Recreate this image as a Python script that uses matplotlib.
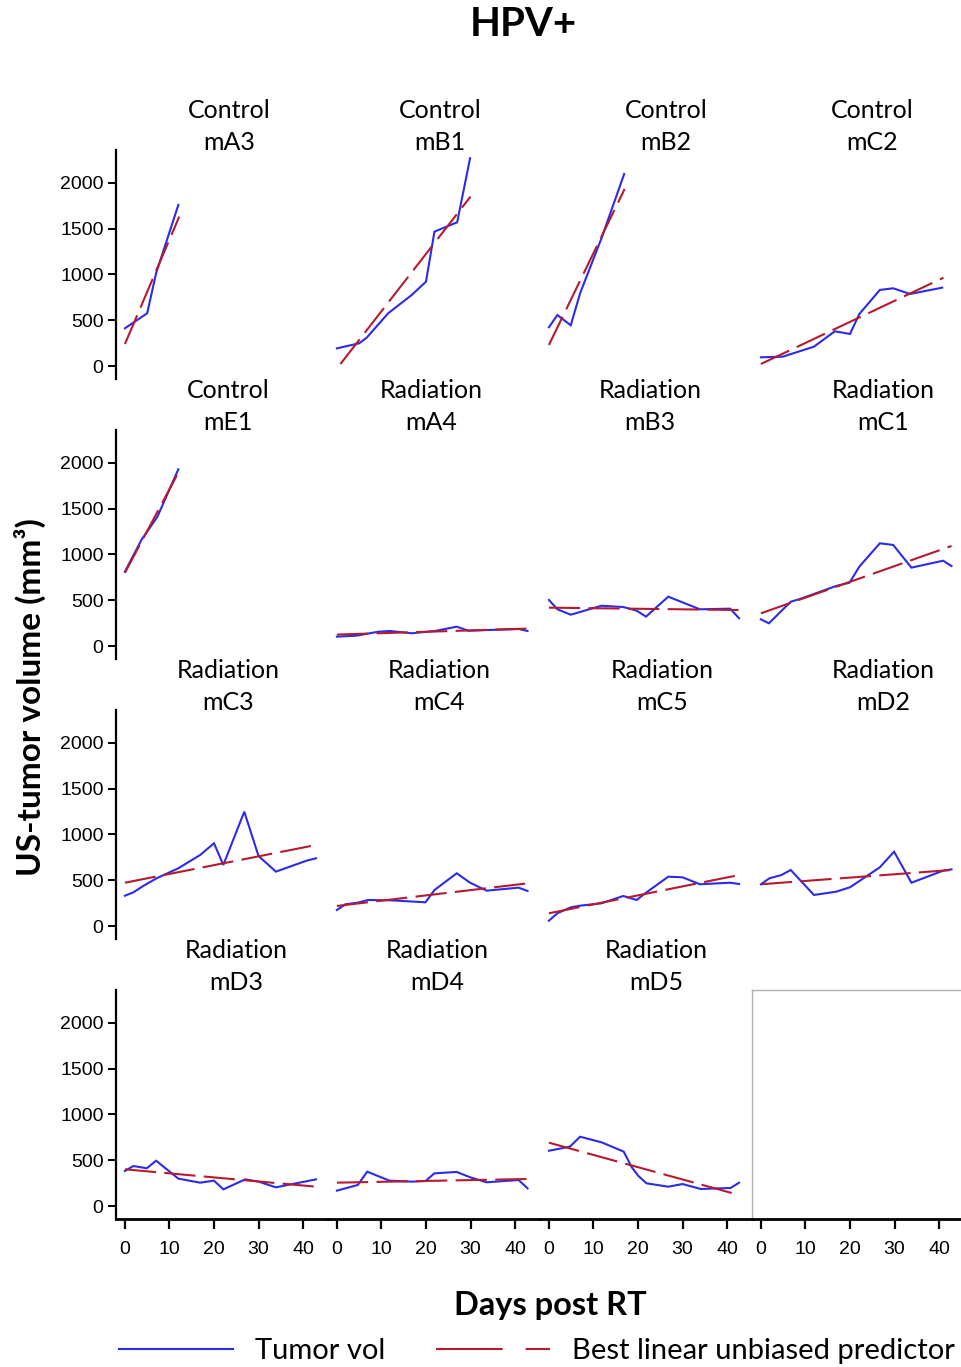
import matplotlib
matplotlib.use("Agg")
import matplotlib.pyplot as plt
from matplotlib.lines import Line2D
from matplotlib.transforms import offset_copy

# ---------------- data ----------------
groups = ["Control", "Control", "Control", "Control",
          "Control", "Radiation", "Radiation", "Radiation",
          "Radiation", "Radiation", "Radiation", "Radiation",
          "Radiation", "Radiation", "Radiation"]
mice = ["mA3", "mB1", "mB2", "mC2",
        "mE1", "mA4", "mB3", "mC1",
        "mC3", "mC4", "mC5", "mD2",
        "mD3", "mD4", "mD5"]

days_mA3 = [0, 5, 7, 12]
vol_mA3 = [412, 576, 1013, 1760]
days_mB1 = [0, 5, 6.7, 11.5, 16.8, 20, 21.9, 27, 29.9]
vol_mB1 = [193, 248, 310, 576, 776, 921, 1468, 1570, 2270]
days_mB2 = [0, 1.9, 4.9, 7, 11.8, 16.9]
vol_mB2 = [423, 557, 445, 794, 1395, 2098]
days_mC2 = [0, 4.9, 11.9, 16.6, 20, 22.1, 26.7, 29.7, 33.5, 40.7]
vol_mC2 = [95, 102, 211, 379, 350, 568, 831, 849, 787, 856]
days_mE1 = [0, 3.7, 7.3, 12]
vol_mE1 = [812, 1158, 1413, 1931]
days_mA4 = [0, 4.4, 9.3, 11.9, 16.8, 22, 26.9, 29.5, 40.8, 42.8]
vol_mA4 = [102, 113, 156, 164, 139, 164, 211, 167, 186, 164]
days_mB3 = [0, 1.9, 4.9, 11.8, 16.7, 19.7, 21.8, 26.8, 30.2, 33.9, 40.7, 42.7]
vol_mB3 = [503, 401, 342, 440, 426, 386, 321, 539, 473, 401, 408, 303]
days_mC1 = [0, 1.8, 6.7, 8.8, 16.9, 19.9, 22.1, 26.7, 29.7, 33.8, 40.9, 42.8]
vol_mC1 = [291, 248, 484, 514, 656, 692, 867, 1122, 1104, 856, 932, 874]
days_mC3 = [0, 1.9, 4.1, 7.1, 12, 16.9, 20, 22.1, 26.8, 30, 33.9, 40.8, 42.9]
vol_mC3 = [331, 368, 437, 521, 631, 776, 904, 667, 1249, 765, 594, 714, 740]
days_mC4 = [0, 1.9, 4.7, 7, 11.9, 19.9, 21.9, 26.9, 29.9, 33.6, 40.8, 42.8]
vol_mC4 = [175, 237, 255, 284, 281, 259, 393, 576, 473, 386, 419, 383]
days_mC5 = [0, 1.9, 4.9, 7, 11.8, 16.7, 19.7, 21.8, 26.8, 30, 33.9, 40.7, 42.7]
vol_mC5 = [58, 139, 204, 222, 248, 328, 284, 364, 539, 532, 456, 473, 459]
days_mD2 = [0, 1.9, 4.6, 6.7, 11.9, 16.9, 20, 26.7, 29.9, 33.8, 40.9, 42.8]
vol_mD2 = [456, 521, 557, 612, 339, 375, 423, 641, 812, 473, 604, 619]
days_mD3 = [0, 1.9, 4.9, 7, 12, 16.9, 20, 22.1, 27, 30, 33.9, 42.9]
vol_mD3 = [383, 437, 412, 495, 299, 255, 277, 182, 291, 266, 204, 291]
days_mD4 = [0, 4.7, 6.8, 11.8, 16.8, 19.9, 21.9, 26.9, 29.9, 33.6, 40.8, 42.8]
vol_mD4 = [168, 230, 375, 277, 266, 273, 357, 372, 314, 259, 284, 193]
days_mD5 = [0, 4.7, 7, 11.8, 16.8, 18.6, 20.1, 21.9, 26.8, 30, 34.1, 40.8, 42.7]
vol_mD5 = [604, 648, 757, 696, 594, 423, 328, 248, 211, 240, 186, 197, 255]

tumor_days = [days_mA3, days_mB1, days_mB2, days_mC2, days_mE1, days_mA4,
              days_mB3, days_mC1, days_mC3, days_mC4, days_mC5, days_mD2,
              days_mD3, days_mD4, days_mD5]
tumor_vols = [vol_mA3, vol_mB1, vol_mB2, vol_mC2, vol_mE1, vol_mA4,
              vol_mB3, vol_mC1, vol_mC3, vol_mC4, vol_mC5, vol_mD2,
              vol_mD3, vol_mD4, vol_mD5]

# BLUP line: (start day, end day) and (start value, end value)
blup_days = [(0, 12.2), (0.8, 30), (0, 17), (0, 41), (0, 12), (0, 42.8),
             (0, 42.7), (0, 42.8), (0, 42.9), (0, 42.8), (0, 42.7), (0, 42.8),
             (0, 42.9), (0, 42.8), (0, 42.7)]
blup_vals = [(240, 1632), (22, 1851), (230, 1934), (22, 965), (800, 1895),
             (125, 190), (419, 393), (357, 1093), (473, 885), (219, 466),
             (139, 557), (456, 612), (401, 211), (255, 295), (692, 120)]

yticks = [0, 500, 1000, 1500, 2000]
xticks = [0, 10, 20, 30, 40]

# ---------------- style / layout ----------------
W, H = 961, 1367
BLUE = "#2b2bea"
RED = "#b51a2e"
TXT_FONT = ["Lato", "DejaVu Sans"]
TICK_FONT = ["Liberation Sans", "DejaVu Sans"]
# horizontal offset (pixels) of each panel title from the panel centre
TITLE_SHIFT_PX = [7, 6, 20, 14, 6, -3, 4, 25, 6, 5, 16, 25, 14, 3, 10]

fig = plt.figure(figsize=(W / 100, H / 100), dpi=100)


def rect(left, top, w, h):
    return [left / W, 1 - (top + h) / H, w / W, h / H]


COL_LEFT = 116
COL_W = 212
ROW_TOP = 150
ROW_STEP = 280
ROW_H = 229

for r in range(4):
    for c in range(4):
        i = r * 4 + c
        ax = fig.add_axes(rect(COL_LEFT + COL_W * c, ROW_TOP + ROW_STEP * r, COL_W, ROW_H))
        ax.set_xlim(-2, 45.6)
        ax.set_ylim(-142, 2360)
        ax.patch.set_alpha(0)
        for s in ax.spines.values():
            s.set_visible(False)
        ax.tick_params(which="both", direction="out", colors="black",
                       labelsize=14)
        if c == 0:
            ax.spines["left"].set_visible(True)
            ax.spines["left"].set_linewidth(1.6)
            ax.set_yticks(yticks)
            ax.tick_params(axis="y", length=6, width=1.4, pad=3)
            for lab in ax.get_yticklabels():
                lab.set_fontfamily(TICK_FONT)
        else:
            ax.set_yticks([])
        if r == 3:
            ax.spines["bottom"].set_visible(True)
            ax.spines["bottom"].set_linewidth(2)
            ax.set_xticks(xticks)
            ax.tick_params(axis="x", length=7, width=1.6, pad=9)
            for lab in ax.get_xticklabels():
                lab.set_fontfamily(TICK_FONT)
        else:
            ax.set_xticks([])

        if i >= len(mice):
            ax.spines["left"].set_visible(True)
            ax.spines["left"].set_color("#b0b0b0")
            ax.spines["left"].set_linewidth(1)
            ax.spines["top"].set_visible(True)
            ax.spines["top"].set_color("#b0b0b0")
            ax.spines["top"].set_linewidth(1)
            continue

        ax.plot(tumor_days[i], tumor_vols[i], color=BLUE, lw=1.5,
                solid_joinstyle="miter", zorder=2)
        ax.plot(blup_days[i], blup_vals[i], color=RED, lw=1.5,
                dashes=(15, 4), zorder=3)
        tr = offset_copy(ax.transAxes, fig=fig, x=TITLE_SHIFT_PX[i], y=-4,
                         units="dots")
        ax.text(0.5, 1.0, f"{groups[i]}\n{mice[i]}", transform=tr,
                ha="center", va="bottom", fontsize=18, family=TXT_FONT,
                linespacing=1.5)

fig.text(523 / W, 1 - 25 / H, "HPV+", ha="center", va="center",
         fontsize=29, fontweight="bold", family=TXT_FONT)
fig.text(550 / W, 1 - 1305 / H, "Days post RT", ha="center", va="center",
         fontsize=23.5, fontweight="bold", family=TXT_FONT)
fig.text(30 / W, 1 - 697 / H, "US-tumor volume (mm³)", ha="center", va="center",
         rotation=90, fontsize=24, fontweight="bold", family=TXT_FONT)

handles = [Line2D([], [], color=BLUE, lw=1.5),
           Line2D([], [], color=RED, lw=1.5, dashes=(32, 11))]
leg = fig.legend(handles, ["Tumor vol", "Best linear unbiased predictor"],
                 loc="center", bbox_to_anchor=(537 / W, 1 - 1351 / H),
                 ncol=2, frameon=False, handlelength=3.9, handletextpad=0.75,
                 columnspacing=1.75, borderpad=0.2,
                 prop={"family": TXT_FONT, "size": 21})

fig.savefig("out.png", dpi=100)
